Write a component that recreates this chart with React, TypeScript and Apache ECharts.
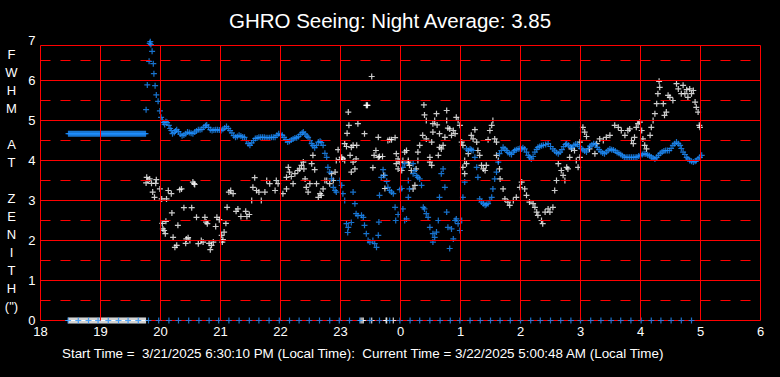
import React, { useEffect, useRef } from "react";
import * as echarts from "echarts";

// ---- Data (hours after midnight are written as 24+h) ----
const titleText = "GHRO Seeing: Night Average: 3.85";
const footerText =
  "Start Time =  3/21/2025 6:30:10 PM (Local Time):  Current Time = 3/22/2025 5:00:48 AM (Local Time)";
const yTitle = "F\nW\nH\nM\n \nA\nT\n \nZ\nE\nN\nI\nT\nH\n(\")";

// early period (minutes after 18:00): blue holds a flat value, white reads 0
const calibMinutes = [
  28, 29, 30, 31, 32, 33, 34, 35, 36, 37, 38, 39, 40, 41, 42, 43, 44, 45, 46, 47, 48, 49, 50, 51, 52,
  53, 54, 55, 56, 57, 58, 59, 60, 61, 62, 63, 64, 65, 66, 67, 68, 69, 70, 71, 72, 73, 74, 75, 76, 77,
  78, 79, 80, 81, 82, 83, 84, 85, 86, 87, 88, 89, 90, 91, 92, 93, 94, 95, 96, 97, 98, 99, 100, 101,
  102, 103, 104, 105,
];
const blueCalibLevel = 4.67;
const whiteCalibLevel = 0;

// blue zero readings (every ~10 min), hours
const blueZeroHours = [
  18.46, 18.63, 18.8, 18.96, 19.13, 19.3, 19.46, 19.63, 19.8, 19.97, 20.14, 20.3, 20.47, 20.64,
  20.81, 20.97, 21.14, 21.31, 21.48, 21.64, 21.81, 21.98, 22.15, 22.31, 22.48, 22.65, 22.82, 22.98,
  23.15, 23.32, 23.49, 23.65, 23.82, 23.99, 24.16, 24.32, 24.49, 24.66, 24.83, 24.99, 25.16, 25.33,
  25.5, 25.66, 25.83, 26.0, 26.17, 26.33, 26.5, 26.67, 26.84, 27.0, 27.17, 27.34, 27.51, 27.67,
  27.84, 28.01, 28.18, 28.34, 28.51, 28.68, 28.85,
];
// white zero readings around midnight, hours
const whiteZeroHours = [23.34, 23.36, 23.38, 23.52, 23.76, 23.77, 23.88];

const blueTrail: number[][] = [
  [19.76, 5.27], [19.78, 5.89], [19.81, 6.48], [19.82, 6.93], [19.83, 6.97], [19.84, 6.9], [19.86, 6.73],
  [19.88, 6.42], [19.89, 6.17], [19.91, 5.87], [19.93, 5.64], [19.96, 5.48], [19.99, 5.24], [20.01, 5.08],
  [20.03, 5.0], [20.05, 4.95], [20.07, 4.9], [20.09, 4.97], [20.11, 4.95], [20.14, 4.88], [20.16, 4.8],
  [20.18, 4.75], [20.2, 4.67], [20.23, 4.7], [20.25, 4.74], [20.27, 4.77], [20.3, 4.72], [20.33, 4.66],
  [20.36, 4.62], [20.39, 4.64], [20.42, 4.67], [20.45, 4.71], [20.48, 4.7], [20.51, 4.68], [20.54, 4.67],
  [20.57, 4.71], [20.6, 4.74], [20.63, 4.77], [20.66, 4.77], [20.69, 4.78], [20.72, 4.83], [20.75, 4.87],
  [20.77, 4.89], [20.8, 4.83], [20.83, 4.77], [20.86, 4.75], [20.89, 4.76], [20.92, 4.77], [20.95, 4.77],
  [20.98, 4.76], [21.01, 4.75], [21.04, 4.78], [21.07, 4.81], [21.1, 4.85], [21.13, 4.8], [21.16, 4.75],
  [21.19, 4.69], [21.22, 4.62], [21.25, 4.58], [21.28, 4.6], [21.31, 4.63], [21.34, 4.61], [21.37, 4.59],
  [21.4, 4.58], [21.43, 4.5], [21.46, 4.42], [21.49, 4.38], [21.52, 4.44], [21.55, 4.5], [21.58, 4.55],
  [21.61, 4.56], [21.64, 4.58], [21.67, 4.58], [21.7, 4.58], [21.73, 4.58], [21.76, 4.57], [21.79, 4.57],
  [21.82, 4.57], [21.85, 4.58], [21.88, 4.58], [21.91, 4.58], [21.94, 4.63], [21.97, 4.67], [22.0, 4.65],
  [22.03, 4.63], [22.06, 4.58], [22.09, 4.52], [22.12, 4.46], [22.15, 4.48], [22.18, 4.51], [22.21, 4.54],
  [22.24, 4.56], [22.27, 4.57], [22.3, 4.6], [22.33, 4.65], [22.36, 4.69], [22.38, 4.71], [22.41, 4.66],
  [22.44, 4.61], [22.46, 4.58], [22.49, 4.5], [22.52, 4.42], [22.54, 4.37], [22.57, 4.32], [22.6, 4.38],
  [22.63, 4.46], [22.66, 4.48], [22.68, 4.45], [22.71, 4.38], [22.74, 4.18], [22.77, 4.08], [22.79, 3.83],
  [22.82, 3.71], [22.85, 3.54], [22.88, 3.33], [22.91, 3.25], [22.93, 3.21], [22.99, 3.5], [23.02, 3.38],
  [23.04, 3.17], [23.07, 3.0], [23.1, 2.42], [23.12, 2.2], [23.13, 2.33], [23.18, 2.45], [23.21, 3.21],
  [23.24, 2.92], [23.26, 2.67], [23.29, 2.62], [23.35, 2.63], [23.38, 2.58], [23.4, 2.38], [23.43, 2.17],
  [23.46, 2.0], [23.49, 1.96], [23.54, 2.0], [23.57, 1.92], [23.6, 1.83], [23.63, 2.13], [23.64, 2.46],
  [23.65, 3.13], [23.68, 3.58], [23.71, 3.77], [23.74, 3.63], [23.77, 3.48], [23.79, 3.33], [23.82, 3.25],
  [23.85, 3.21], [23.88, 3.17], [23.91, 2.83], [23.92, 2.5], [23.96, 2.65], [23.99, 3.27], [24.02, 3.3],
  [24.04, 2.79], [24.04, 3.83], [24.07, 2.5], [24.07, 3.92], [24.1, 2.54], [24.13, 3.5], [24.13, 3.08],
  [24.15, 3.29], [24.21, 3.92], [24.21, 3.67], [24.24, 3.75], [24.27, 3.62], [24.29, 3.58], [24.32, 3.54],
  [24.35, 3.38], [24.38, 2.83], [24.4, 2.79], [24.43, 2.67], [24.46, 2.58], [24.49, 2.33], [24.54, 2.17],
  [24.54, 1.96], [24.57, 2.08], [24.6, 2.21], [24.63, 2.5], [24.65, 3.08], [24.68, 3.67], [24.71, 3.79],
  [24.74, 3.33], [24.77, 2.71], [24.79, 2.33], [24.82, 1.8], [24.85, 2.29], [24.88, 2.04], [24.91, 2.5],
  [24.93, 2.54], [24.96, 2.42], [24.99, 2.25], [25.02, 2.5], [25.04, 3.08], [25.07, 3.46], [25.1, 4.29],
  [25.13, 4.25], [25.16, 4.29], [25.18, 4.27], [25.21, 4.25], [25.24, 4.08], [25.27, 3.83], [25.29, 3.58],
  [25.32, 3.04], [25.35, 2.96], [25.38, 2.92], [25.41, 2.88], [25.43, 2.9], [25.46, 2.92], [25.49, 3.0],
  [25.52, 3.08], [25.54, 3.29], [25.57, 3.54], [25.6, 3.71], [25.63, 3.96], [25.65, 4.17], [25.68, 4.25],
  [25.71, 4.33], [25.74, 4.29], [25.77, 4.25], [25.79, 4.2], [25.82, 4.17], [25.85, 4.15], [25.88, 4.21],
  [25.9, 4.25], [25.93, 4.27], [25.96, 4.29], [25.99, 4.3], [26.02, 4.29], [26.04, 4.32], [26.07, 4.29],
  [26.1, 4.21], [26.13, 4.13], [26.15, 4.08], [26.18, 4.04], [26.21, 4.1], [26.24, 4.21], [26.27, 4.28],
  [26.29, 4.33], [26.32, 4.35], [26.35, 4.37], [26.38, 4.38], [26.42, 4.4], [26.46, 4.42], [26.5, 4.35],
  [26.54, 4.29], [26.57, 4.24], [26.6, 4.2], [26.63, 4.17], [26.66, 4.21], [26.69, 4.27], [26.72, 4.35],
  [26.75, 4.4], [26.77, 4.42], [26.8, 4.38], [26.83, 4.34], [26.86, 4.33], [26.89, 4.38], [26.92, 4.41],
  [26.95, 4.4], [26.98, 4.35], [27.01, 4.3], [27.04, 4.27], [27.07, 4.24], [27.1, 4.21], [27.13, 4.3],
  [27.16, 4.36], [27.19, 4.39], [27.22, 4.42], [27.25, 4.4], [27.28, 4.33], [27.31, 4.27], [27.34, 4.22],
  [27.37, 4.19], [27.4, 4.17], [27.43, 4.21], [27.46, 4.25], [27.49, 4.29], [27.52, 4.27], [27.55, 4.26],
  [27.58, 4.24], [27.61, 4.2], [27.64, 4.18], [27.67, 4.15], [27.7, 4.12], [27.73, 4.09], [27.76, 4.08],
  [27.79, 4.08], [27.82, 4.08], [27.85, 4.08], [27.88, 4.08], [27.91, 4.08], [27.94, 4.09], [27.97, 4.11],
  [28.0, 4.13], [28.03, 4.15], [28.06, 4.17], [28.09, 4.16], [28.12, 4.14], [28.15, 4.12], [28.18, 4.09],
  [28.21, 4.06], [28.24, 4.04], [28.27, 4.08], [28.3, 4.13], [28.33, 4.18], [28.36, 4.21], [28.39, 4.24],
  [28.42, 4.25], [28.45, 4.25], [28.48, 4.25], [28.51, 4.3], [28.54, 4.38], [28.57, 4.42], [28.6, 4.46],
  [28.63, 4.42], [28.66, 4.38], [28.68, 4.3], [28.71, 4.21], [28.74, 4.15], [28.77, 4.08], [28.79, 4.04],
  [28.82, 4.0], [28.85, 3.98], [28.88, 3.96], [28.91, 3.98], [28.93, 4.0], [28.96, 4.04], [28.99, 4.08],
  [29.02, 4.13],
];

const whitePoints: number[][] = [
  [19.76, 3.44], [19.77, 3.58], [19.79, 3.5], [19.82, 3.54], [19.85, 3.43], [19.87, 3.21], [19.9, 3.08],
  [19.92, 3.43], [19.93, 3.52], [19.99, 3.29], [20.02, 3.04], [20.03, 2.43], [20.04, 2.29], [20.06, 2.25],
  [20.08, 2.17], [20.09, 2.48], [20.1, 3.04], [20.13, 3.25], [20.18, 3.17], [20.19, 2.69], [20.21, 2.08],
  [20.24, 1.83], [20.27, 1.88], [20.29, 2.38], [20.32, 3.27], [20.35, 3.29], [20.39, 2.82], [20.42, 1.93],
  [20.43, 2.04], [20.46, 2.07], [20.49, 2.0], [20.52, 2.82], [20.54, 3.46], [20.56, 3.42], [20.57, 3.4],
  [20.6, 2.58], [20.63, 1.92], [20.68, 2.0], [20.71, 1.96], [20.74, 2.58], [20.76, 2.46], [20.78, 2.42],
  [20.81, 1.93], [20.83, 1.77], [20.85, 1.88], [20.88, 1.96], [20.92, 2.35], [20.94, 2.58], [20.98, 2.52],
  [21.02, 2.13], [21.03, 1.96], [21.04, 2.02], [21.06, 2.21], [21.09, 2.43], [21.11, 2.83], [21.14, 3.21],
  [21.17, 3.25], [21.21, 3.17], [21.26, 2.73], [21.29, 2.79], [21.34, 2.6], [21.42, 2.73], [21.44, 2.6],
  [21.48, 2.65], [21.52, 3.0], [21.54, 3.33], [21.57, 3.57], [21.6, 3.25], [21.64, 3.21], [21.68, 3.0],
  [21.74, 3.21], [21.77, 3.5], [21.82, 3.42], [21.91, 3.25], [21.93, 3.5], [21.96, 3.42], [22.04, 3.17],
  [22.1, 3.29], [22.1, 3.58], [22.13, 3.83], [22.15, 3.71], [22.18, 3.6], [22.21, 3.42], [22.24, 3.67],
  [22.29, 3.75], [22.32, 3.79], [22.35, 3.88], [22.38, 3.96], [22.39, 3.79], [22.41, 3.54], [22.43, 3.33],
  [22.46, 3.21], [22.49, 3.42], [22.52, 3.92], [22.54, 4.13], [22.57, 3.77], [22.6, 3.42], [22.63, 3.08],
  [22.66, 3.17], [22.68, 3.13], [22.71, 3.29], [22.74, 3.5], [22.77, 3.5], [22.82, 3.42], [22.85, 3.67],
  [22.88, 3.5], [22.91, 3.71], [22.93, 4.0], [22.96, 4.27], [22.99, 4.02], [23.02, 4.08], [23.04, 4.04],
  [23.07, 4.42], [23.07, 4.0], [23.1, 4.35], [23.11, 4.68], [23.13, 5.21], [23.14, 4.88], [23.16, 4.13],
  [23.18, 4.33], [23.18, 3.71], [23.21, 4.38], [23.21, 3.96], [23.24, 3.79], [23.26, 4.04], [23.27, 4.38],
  [23.29, 4.92], [23.4, 4.67], [23.43, 5.38], [23.44, 5.38], [23.45, 5.38], [23.52, 6.1], [23.54, 3.82],
  [23.56, 4.13], [23.59, 4.25], [23.63, 4.58], [23.63, 4.08], [23.65, 4.1], [23.7, 4.1], [23.72, 3.63],
  [23.74, 3.3], [23.79, 4.5], [23.82, 4.52], [23.85, 4.52], [23.91, 4.57], [23.93, 4.17], [23.93, 3.92],
  [23.96, 4.04], [23.96, 3.79], [23.99, 3.96], [24.02, 3.75], [24.04, 4.0], [24.07, 4.21], [24.1, 4.25],
  [24.13, 4.0], [24.13, 3.96], [24.15, 3.88], [24.18, 3.75], [24.21, 3.29], [24.24, 3.38], [24.26, 3.79],
  [24.29, 4.21], [24.29, 4.0], [24.32, 4.38], [24.37, 4.63], [24.39, 5.39], [24.4, 5.14], [24.43, 4.54],
  [24.43, 5.0], [24.49, 4.08], [24.49, 3.96], [24.52, 4.46], [24.52, 3.88], [24.54, 4.71], [24.54, 4.92],
  [24.57, 5.0], [24.6, 5.17], [24.61, 4.89], [24.63, 4.13], [24.65, 4.67], [24.65, 4.33], [24.68, 4.29],
  [24.71, 4.38], [24.74, 4.58], [24.77, 5.25], [24.77, 5.0], [24.79, 4.81], [24.82, 4.79], [24.85, 4.63],
  [24.88, 4.75], [24.91, 4.67], [24.93, 5.08], [24.96, 5.0], [24.99, 4.88], [25.02, 4.46], [25.04, 4.38],
  [25.04, 3.83], [25.07, 4.0], [25.07, 3.67], [25.1, 3.92], [25.13, 4.17], [25.18, 4.63], [25.21, 4.54],
  [25.24, 4.77], [25.27, 4.46], [25.29, 4.25], [25.32, 4.13], [25.35, 3.88], [25.38, 3.79], [25.41, 3.75],
  [25.43, 3.88], [25.46, 4.52], [25.49, 4.75], [25.52, 4.88], [25.54, 5.0], [25.57, 4.54], [25.6, 4.46],
  [25.6, 4.13], [25.63, 4.0], [25.65, 3.79], [25.66, 3.54], [25.71, 3.29], [25.74, 3.04], [25.79, 2.96],
  [25.82, 2.88], [25.88, 3.0], [25.93, 3.08], [25.99, 3.33], [26.02, 3.46], [26.07, 3.29], [26.1, 3.13],
  [26.15, 2.96], [26.21, 2.92], [26.24, 2.83], [26.27, 2.71], [26.29, 2.63], [26.35, 2.5], [26.37, 2.42],
  [26.41, 2.71], [26.46, 2.79], [26.49, 2.71], [26.54, 2.83], [26.57, 3.25], [26.6, 3.5], [26.63, 3.92],
  [26.68, 3.75], [26.71, 3.63], [26.74, 3.5], [26.77, 3.83], [26.79, 3.79], [26.82, 4.08], [26.85, 4.29],
  [26.9, 4.25], [26.93, 4.0], [26.96, 3.83], [26.99, 4.08], [26.99, 4.46], [27.04, 4.83], [27.07, 4.71],
  [27.1, 4.6], [27.15, 4.29], [27.24, 4.17], [27.27, 4.42], [27.32, 4.54], [27.38, 4.5], [27.43, 4.58],
  [27.49, 4.63], [27.57, 4.88], [27.63, 4.83], [27.68, 4.75], [27.74, 4.63], [27.79, 4.75], [27.82, 4.79],
  [27.85, 4.5], [27.88, 4.42], [27.9, 4.58], [27.93, 4.83], [27.96, 4.92], [27.99, 4.96], [28.02, 4.75],
  [28.04, 4.54], [28.07, 4.38], [28.1, 4.29], [28.16, 4.63], [28.18, 4.83], [28.21, 5.0], [28.24, 5.17],
  [28.27, 5.42], [28.29, 5.67], [28.31, 5.98], [28.32, 5.83], [28.38, 5.42], [28.4, 5.13], [28.43, 5.21],
  [28.46, 5.63], [28.49, 5.58], [28.54, 5.5], [28.6, 5.92], [28.63, 5.79], [28.68, 5.67], [28.71, 5.88],
  [28.74, 5.67], [28.77, 5.77], [28.79, 5.58], [28.82, 5.79], [28.85, 5.67], [28.88, 5.75], [28.91, 5.46],
  [28.93, 5.33], [28.96, 5.21], [28.98, 4.88], [28.99, 4.83],
];

const hourTicks = [19, 20, 21, 22, 23, 24, 25, 26, 27, 28, 29];
const solidLevels = [1, 2, 3, 4, 5, 6];
const dashedLevels = [0.5, 1.5, 2.5, 3.5, 4.5, 5.5, 6.5];
const boxTop = 6.875;

const RED = "#ff0000";
const BLUE = "#1e8fff";
const WHITE = "#ffffff";
const FONT = "'Liberation Sans', Arial, sans-serif";
const PLUS = "path://M2.4,0L3.6,0L3.6,6L2.4,6ZM0,2.4L6,2.4L6,3.6L0,3.6Z";

export default function App() {
  const ref = useRef<HTMLDivElement>(null);

  useEffect(() => {
    document.body.style.margin = "0";
    if (!ref.current) return;
    const chart = echarts.init(ref.current, undefined, { renderer: "svg" });

    const markData: any[] = [];
    solidLevels.forEach((v) => markData.push({ yAxis: v }));
    dashedLevels.forEach((v) =>
      markData.push({ yAxis: v, lineStyle: { type: [10, 10], color: RED, width: 1 } })
    );
    hourTicks.forEach((h) => markData.push([{ coord: [h, 0] }, { coord: [h, boxTop] }]));

    const calibHours = calibMinutes.map((m) => 18 + m / 60);

    const scatterBase = {
      type: "scatter",
      symbol: PLUS,
      symbolSize: 6,
      clip: false,
      silent: true,
    };

    chart.setOption({
      animation: false,
      backgroundColor: "#000000",
      title: [
        {
          text: titleText,
          left: "center",
          top: 10,
          padding: 0,
          textStyle: { color: WHITE, fontSize: 20.5, fontWeight: "normal", fontFamily: FONT },
        },
        {
          text: footerText,
          left: 62,
          top: 347,
          padding: 0,
          textStyle: { color: WHITE, fontSize: 13.4, fontWeight: "normal", fontFamily: FONT },
        },
      ],
      grid: { left: 40.5, right: 19.5, top: 40.5, bottom: 56.5 },
      xAxis: {
        type: "value",
        min: 18,
        max: 30,
        interval: 1,
        axisLine: { show: false },
        axisTick: { show: false },
        splitLine: { show: false },
        axisLabel: {
          color: WHITE,
          fontSize: 13,
          fontFamily: FONT,
          margin: 4,
          formatter: (v: number) => String(Math.round(v) % 24),
        },
      },
      yAxis: {
        type: "value",
        min: 0,
        max: 7,
        interval: 1,
        name: yTitle,
        nameLocation: "middle",
        nameRotate: 0,
        nameGap: 29,
        nameTextStyle: {
          color: WHITE,
          fontSize: 13,
          fontFamily: FONT,
          lineHeight: 18,
          align: "center",
          verticalAlign: "middle",
        },
        axisLine: { show: false },
        axisTick: { show: false },
        splitLine: { show: false },
        axisLabel: { color: WHITE, fontSize: 13, fontFamily: FONT, margin: 5 },
      },
      graphic: [
        {
          type: "rect",
          z: 1,
          silent: true,
          shape: { x: 40.5, y: 45.5, width: 720, height: 275 },
          style: { fill: "none", stroke: RED, lineWidth: 1 },
        },
      ],
      series: [
        {
          type: "scatter",
          data: [],
          silent: true,
          z: 1,
          markLine: {
            silent: true,
            symbol: ["none", "none"],
            label: { show: false },
            lineStyle: { color: RED, width: 1, type: "solid" },
            data: markData,
          },
        },
        {
          ...scatterBase,
          name: "whiteCalib",
          itemStyle: { color: WHITE },
          data: calibHours.map((h) => [h, whiteCalibLevel]),
        },
        {
          ...scatterBase,
          name: "whiteZero",
          itemStyle: { color: WHITE },
          data: whiteZeroHours.map((h) => [h, 0]),
        },
        {
          ...scatterBase,
          name: "white",
          itemStyle: { color: WHITE },
          data: whitePoints,
        },
        {
          ...scatterBase,
          name: "blueCalib",
          itemStyle: { color: BLUE },
          data: calibHours.map((h) => [h, blueCalibLevel]),
        },
        {
          ...scatterBase,
          name: "blueZero",
          itemStyle: { color: BLUE },
          data: blueZeroHours.map((h) => [h, 0]),
        },
        {
          ...scatterBase,
          name: "blue",
          itemStyle: { color: BLUE },
          data: blueTrail,
        },
      ],
    });

    return () => chart.dispose();
  }, []);

  return <div ref={ref} style={{ width: 780, height: 377 }} />;
}
